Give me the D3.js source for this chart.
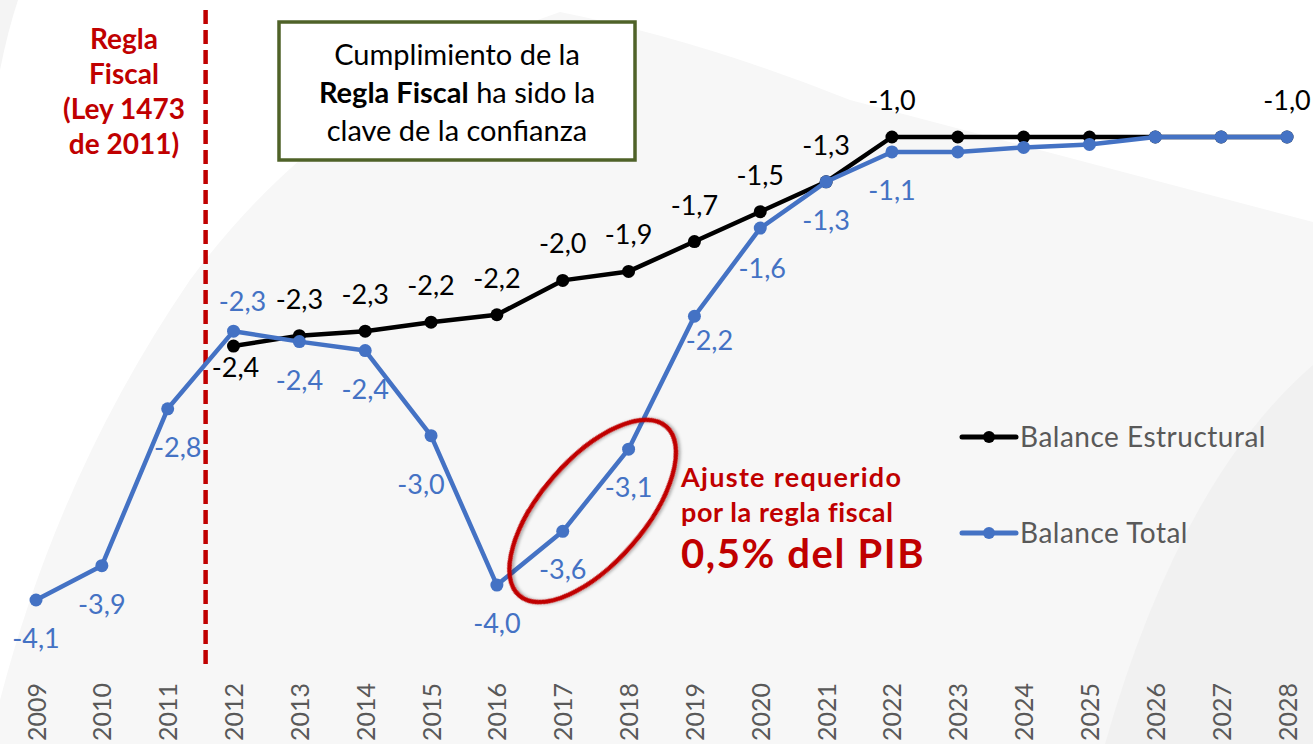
<!DOCTYPE html>
<html>
<head>
<meta charset="utf-8">
<script src="https://cdn.jsdelivr.net/npm/d3@7"></script>
<style>
  body { margin: 0; background: #fff; }
  svg { display: block; font-family: Lato, "Open Sans", sans-serif; }
</style>
</head>
<body>
<div id="chart"></div>
<script>
// data
const years = d3.range(2009, 2029)
const estructuralYears = [2012, 2013, 2014, 2015, 2016, 2017, 2018, 2019, 2020, 2021, 2022, 2023, 2024, 2025, 2026, 2027, 2028]
const estructural = [-2.40, -2.33, -2.30, -2.24, -2.19, -1.96, -1.90, -1.70, -1.50, -1.30, -1.00, -1.00, -1.00, -1.00, -1.00, -1.00, -1.00]
const totalYears = years
const total = [-4.10, -3.87, -2.82, -2.30, -2.37, -2.43, -3.00, -4.00, -3.64, -3.09, -2.20, -1.61, -1.30, -1.10, -1.10, -1.07, -1.05, -1.00, -1.00, -1.00]
const estructuralLabelled = [2012, 2013, 2014, 2015, 2016, 2017, 2018, 2019, 2020, 2021, 2022, 2028]
const totalLabelled = [2009, 2010, 2011, 2012, 2013, 2014, 2015, 2016, 2017, 2018, 2019, 2020, 2021, 2022]
const seriesNames = ["Balance Estructural", "Balance Total"]

const width = 1313,
      height = 744

const svg = d3.select("#chart")
              .append("svg")
              .attr("width", width)
              .attr("height", height)

// background shapes
svg.append("rect").attr("width", width).attr("height", height).attr("fill", "#f7f7f7")
svg.append("path")
   .attr("d", "M0,0 L0,700 Q60,470 190,280 Q330,90 560,12 Q700,40 850,100 L1313,222 L1313,0 Z")
   .attr("fill", "#ffffff")
svg.append("path")
   .attr("d", "M0,0 L18,0 Q8,30 0,70 Z")
   .attr("fill", "#f4f4f4")
svg.append("path")
   .attr("d", "M1313,365 Q1180,480 1105,744 L1313,744 Z")
   .attr("fill", "#f1f1f1")

// scales
const x = d3.scaleLinear().domain([2009, 2028]).range([36, 1287])
const y = d3.scaleLinear().domain([-4.1, -1.0]).range([600, 137])

const fmt = v => d3.format(".1f")(v).replace(".", ",").replace("−", "-")

// x axis labels (rotated)
const xAxis = d3.axisBottom(x).tickValues(years).tickFormat(d3.format("d")).tickSize(0)
const gx = svg.append("g").attr("transform", "translate(0,686)").call(xAxis)
gx.select(".domain").remove()
gx.selectAll("text")
  .attr("x", 0).attr("y", 0).attr("dy", "0.36em")
  .attr("text-anchor", "start")
  .attr("transform", "translate(0,55) rotate(-90)")
  .style("font-family", "Lato, sans-serif")
  .style("font-size", "25px")
  .attr("fill", "#595959")

// dashed rule line
svg.append("line")
   .attr("x1", x(2011.5) + 5).attr("x2", x(2011.5) + 5)
   .attr("y1", 10).attr("y2", 668)
   .attr("stroke", "#c00000").attr("stroke-width", 4.5)
   .attr("stroke-dasharray", "14,6")

const redText = svg.append("text")
   .attr("text-anchor", "middle")
   .attr("fill", "#c00000")
   .style("font-weight", "bold").style("font-size", "28px")
;["Regla", "Fiscal", "(Ley 1473", "de 2011)"].forEach((t, i) => {
  redText.append("tspan").attr("x", 124).attr("y", 49 + i * 35).text(t)
})

// box
svg.append("rect")
   .attr("x", 279).attr("y", 22).attr("width", 356).attr("height", 138)
   .attr("fill", "#ffffff").attr("stroke", "#4f6228").attr("stroke-width", 3.5)
const boxText = svg.append("text").attr("text-anchor", "middle").attr("fill", "#000").style("font-size", "29px")
boxText.append("tspan").attr("x", 457).attr("y", 65).text("Cumplimiento de la")
const l2 = boxText.append("tspan").attr("x", 457).attr("y", 103)
l2.append("tspan").style("font-weight", "bold").text("Regla Fiscal")
l2.append("tspan").text(" ha sido la")
boxText.append("tspan").attr("x", 457).attr("y", 141).text("clave de la confianza")

// lines
const line = d3.line().x(d => x(d[0])).y(d => y(d[1]))
const estPts = d3.zip(estructuralYears, estructural)
const totPts = d3.zip(totalYears, total)

function drawSeries(pts, color) {
  svg.append("path")
     .datum(pts)
     .attr("d", line)
     .attr("fill", "none")
     .attr("stroke", color)
     .attr("stroke-width", 4.5)
     .attr("stroke-linejoin", "round")
  svg.append("g").selectAll("circle")
     .data(pts)
     .join("circle")
     .attr("cx", d => x(d[0]))
     .attr("cy", d => y(d[1]))
     .attr("r", 6.5)
     .attr("fill", color)
}
drawSeries(estPts, "#000000")
drawSeries(totPts, "#4472c4")

// data labels
const estOffset = { 2012: [2, 58] }
const totOffset = { 2011: [10, 0], 2012: [9, -68], 2015: [-10, 10], 2019: [15, -14], 2020: [2, 2] }

svg.append("g").selectAll("text")
   .data(estPts.filter(d => estructuralLabelled.includes(d[0])))
   .join("text")
   .attr("x", d => x(d[0]) + (estOffset[d[0]] ? estOffset[d[0]][0] : 0))
   .attr("y", d => y(d[1]) - 27 + (estOffset[d[0]] ? estOffset[d[0]][1] : 0))
   .attr("text-anchor", "middle")
   .attr("fill", "#000")
   .style("font-size", "27px")
   .text(d => fmt(d[1]))

svg.append("g").selectAll("text")
   .data(totPts.filter(d => totalLabelled.includes(d[0])))
   .join("text")
   .attr("x", d => x(d[0]) + (totOffset[d[0]] ? totOffset[d[0]][0] : 0))
   .attr("y", d => y(d[1]) + 48 + (totOffset[d[0]] ? totOffset[d[0]][1] : 0))
   .attr("text-anchor", "middle")
   .attr("fill", "#4472c4")
   .style("font-size", "27px")
   .text(d => fmt(d[1]))

// ellipse annotation
const defs = svg.append("defs")
const f = defs.append("filter").attr("id", "shadow").attr("x", "-20%").attr("y", "-20%").attr("width", "140%").attr("height", "140%")
f.append("feDropShadow").attr("dx", 1.5).attr("dy", 2).attr("stdDeviation", 1.5).attr("flood-color", "#000").attr("flood-opacity", 0.3)

svg.append("ellipse")
   .attr("cx", 0).attr("cy", 0).attr("rx", 112).attr("ry", 52)
   .attr("transform", `translate(${(x(2017) + x(2018)) / 2 - 3},${y(-3.37) + 20}) rotate(-49)`)
   .attr("fill", "none").attr("stroke", "#c00000").attr("stroke-width", 4.5)
   .attr("filter", "url(#shadow)")

const ann = svg.append("text").attr("fill", "#c00000").style("font-weight", "bold")
ann.append("tspan").attr("x", 681).attr("y", 487).style("font-size", "27px").style("letter-spacing", "1.3px").text("Ajuste requerido")
ann.append("tspan").attr("x", 681).attr("y", 522).style("font-size", "27px").style("letter-spacing", "0.6px").text("por la regla fiscal")
ann.append("tspan").attr("x", 681).attr("y", 568).style("font-size", "40px").style("letter-spacing", "1.6px").text("0,5% del PIB")

// legend
const legendColors = ["#000000", "#4472c4"]
const lg = svg.append("g").selectAll("g")
   .data(seriesNames)
   .join("g")
   .attr("transform", (d, i) => `translate(962,${437 + i * 96})`)
lg.append("line").attr("x1", 0).attr("x2", 54).attr("stroke", (d, i) => legendColors[i])
  .attr("stroke-width", 5).attr("stroke-linecap", "round")
lg.append("circle").attr("cx", 27).attr("r", 6).attr("fill", (d, i) => legendColors[i])
lg.append("text").attr("x", 58).attr("y", 10)
  .attr("fill", "#595959").style("font-size", "28px").style("letter-spacing", "0.5px")
  .text(d => d)
</script>
</body>
</html>
